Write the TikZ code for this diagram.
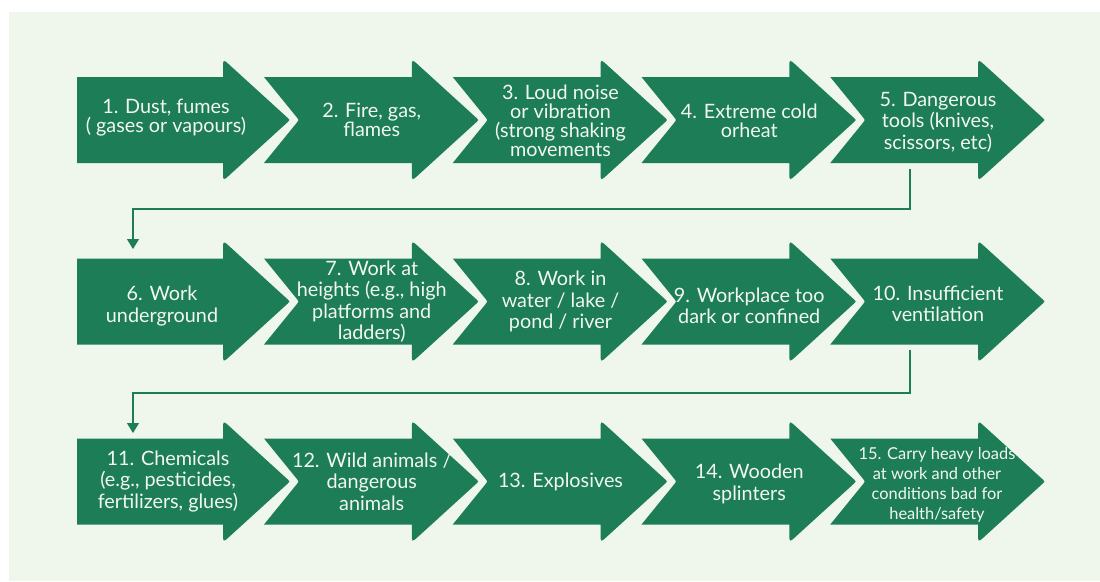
\documentclass[tikz,border=0pt]{standalone}
\usepackage{fontspec}
\setmainfont{Lato}
\usetikzlibrary{arrows.meta}
\definecolor{arrowgreen}{RGB}{28,125,86}
\definecolor{panelbg}{RGB}{239,246,236}
\definecolor{txtc}{RGB}{242,247,240}
% head of an arrow: base x = #1, centre y = #2 (drawn from top body corner to bottom body corner)
\newcommand\headpart[2]{(#1,{#2-43}) -- (#1,{#2-52}) .. controls (#1,{#2-61}) .. ({#1+6.7},{#2-54.9}) -- ({#1+64.8},{#2-2}) .. controls ({#1+67},#2) .. ({#1+64.8},{#2+2}) -- ({#1+6.7},{#2+54.9}) .. controls (#1,{#2+61}) .. (#1,{#2+52}) -- (#1,{#2+43})}
\newcommand\firstarrow[2]{\fill[arrowgreen] (77,{#2+43}) -- (77,{#2-43}) -- \headpart{#1}{#2} -- cycle;}
\newcommand\nextarrow[2]{\fill[arrowgreen] ({#1-147.75},{#2+43}) -- ({#1-114.65},{#2+2.3}) .. controls ({#1-112.75},#2) .. ({#1-114.65},{#2-2.3}) -- ({#1-147.75},{#2-43}) -- \headpart{#1}{#2} -- cycle;}
\tikzset{
  lbl/.style={text=txtc, align=center, inner sep=0pt, font=\fontsize{19.8}{19}\selectfont},
  lblwide/.style={lbl, font=\fontsize{19.8}{21.5}\selectfont},
  lblsmall/.style={lbl, font=\fontsize{16.4}{20}\selectfont},
  conn/.style={draw=arrowgreen, line width=1.3pt, -{Triangle[width=12pt,length=10pt]}}
}
\begin{document}
\begin{tikzpicture}[x=1pt,y=-1pt]
\useasboundingbox (0,0) rectangle (1100,581);
\fill[panelbg] (9,12) rectangle (1100,581);
\foreach \c in {120,301.5,481.5}{
  \firstarrow{223}{\c}
  \foreach \b in {411.75,600.5,789.25,978}{\nextarrow{\b}{\c}}
}
% row 1
\node[lbl] (t1) at (166,118) {1. Dust, fumes\\( gases or vapours)};
\node[lbl] (t2) at (371.75,120) {2. Fire, gas,\\flames};
\node[lbl] (t3) at (560.5,121) {3. Loud noise\\or vibration\\(strong shaking\\movements};
\node[lbl] (t4) at (749.25,121) {4. Extreme cold\\orheat};
\node[lblwide] (t5) at (938,122) {5. Dangerous\\tools (knives,\\scissors, etc)};
% row 2
\node[lblwide] (t6) at (162,306) {6. Work\\underground};
\node[lblwide] (t7) at (371.75,301.5) {7. Work at\\heights (e.g., high\\platforms and\\ladders)};
\node[lblwide] (t8) at (560.5,301.5) {8. Work in\\water / lake /\\pond / river};
\node[lblwide] (t9) at (749.25,306) {9. Workplace too\\dark or confined};
\node[lblwide] (t10) at (938,304) {10. Insufficient\\ventilation};
% row 3
\node[lblwide] (t11) at (168,481.5) {11. Chemicals\\(e.g., pesticides,\\fertilizers, glues)};
\node[lblwide] (t12) at (371.75,481.5) {12. Wild animals /\\dangerous\\animals};
\node[lbl] (t13) at (560.5,481.5) {13. Explosives};
\node[lblwide] (t14) at (749.25,484) {14. Wooden\\splinters};
\node[lblsmall] (t15) at (937,485) {15. Carry heavy loads\\at work and other\\conditions bad for\\health/safety};
% connectors
\coordinate (s1) at (910,169);
\coordinate (e1) at (133,249);
\coordinate (s2) at (910,350);
\coordinate (e2) at (133,433);
\draw[conn] (s1) |- (133,209) -- (e1);
\draw[conn] (s2) |- (133,393) -- (e2);
\end{tikzpicture}
\end{document}
